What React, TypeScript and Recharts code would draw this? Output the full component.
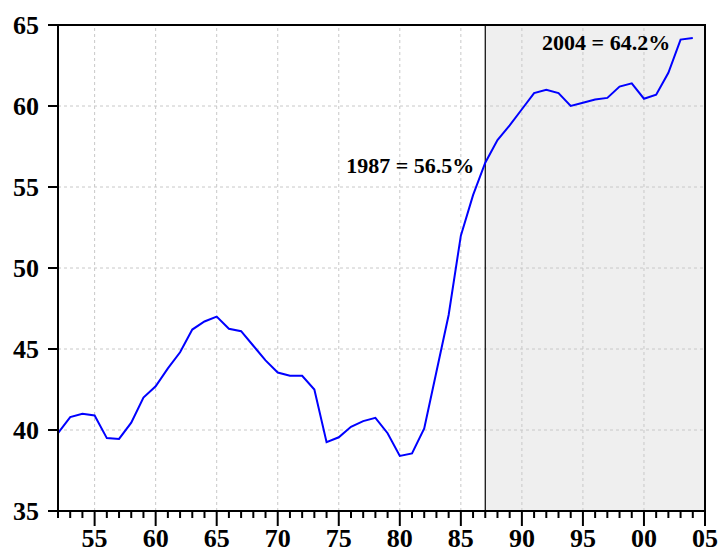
import {
  LineChart,
  Line,
  XAxis,
  YAxis,
  ReferenceArea,
  ReferenceLine,
  Label,
} from "recharts";

if (typeof document !== "undefined") {
  document.body.style.margin = "0";
}

const years = [
  1952, 1953, 1954, 1955, 1956, 1957, 1958, 1959, 1960, 1961, 1962, 1963,
  1964, 1965, 1966, 1967, 1968, 1969, 1970, 1971, 1972, 1973, 1974, 1975,
  1976, 1977, 1978, 1979, 1980, 1981, 1982, 1983, 1984, 1985, 1986, 1987,
  1988, 1989, 1990, 1991, 1992, 1993, 1994, 1995, 1996, 1997, 1998, 1999,
  2000, 2001, 2002, 2003, 2004,
];

const shares = [
  39.8, 40.8, 41.0, 40.9, 39.5, 39.45, 40.45, 42.0, 42.7, 43.8, 44.8, 46.2,
  46.7, 47.0, 46.25, 46.1, 45.2, 44.3, 43.55, 43.35, 43.35, 42.5, 39.25, 39.55,
  40.2, 40.55, 40.75, 39.8, 38.4, 38.55, 40.1, 43.6, 47.1, 52.0, 54.5, 56.5,
  57.9, 58.8, 59.8, 60.8, 61.0, 60.8, 60.0, 60.2, 60.4, 60.5, 61.2, 61.4,
  60.45, 60.7, 62.05, 64.1, 64.2,
];

const yTicks = [35, 40, 45, 50, 55, 60, 65];
const gridYears = [1955, 1960, 1965, 1970, 1975, 1980, 1985, 1990, 1995, 2000];
const gridValues = [40, 45, 50, 55, 60];
const xTickYears = [
  1952, 1953, 1954, 1955, 1956, 1957, 1958, 1959, 1960, 1961, 1962, 1963,
  1964, 1965, 1966, 1967, 1968, 1969, 1970, 1971, 1972, 1973, 1974, 1975,
  1976, 1977, 1978, 1979, 1980, 1981, 1982, 1983, 1984, 1985, 1986, 1987,
  1988, 1989, 1990, 1991, 1992, 1993, 1994, 1995, 1996, 1997, 1998, 1999,
  2000, 2001, 2002, 2003, 2004, 2005,
];

const breakYear = 1987;
const breakLabel = "1987 = 56.5%";
const endLabel = "2004 = 64.2%";

const chartData = years.map((year, i) => ({ year, share: shares[i] }));

const FONT = "Liberation Serif";

function YearTick(props: any) {
  const { x, y, payload } = props;
  const year = payload.value as number;
  const major = year % 5 === 0;
  return (
    <g>
      <line
        x1={x}
        x2={x}
        y1={y}
        y2={y + (major ? 15 : 7)}
        stroke="#000"
        strokeWidth={2}
      />
      {major && (
        <text
          x={x}
          y={y + 36}
          textAnchor="middle"
          fontFamily={FONT}
          fontWeight="bold"
          fontSize={26}
          fill="#000"
        >
          {String(year % 100).padStart(2, "0")}
        </text>
      )}
    </g>
  );
}

export default function App() {
  return (
    <div style={{ width: 721, height: 552, background: "#fff" }}>
      <LineChart
        width={721}
        height={552}
        data={chartData}
        margin={{ top: 25, right: 16, left: 0, bottom: 0 }}
      >
        <ReferenceArea
          x1={breakYear}
          x2={2005}
          y1={35}
          y2={65}
          fill="#efefef"
          fillOpacity={1}
          stroke="none"
        />
        {gridYears.map((g) => (
          <ReferenceLine
            key={"gx" + g}
            x={g}
            stroke="#c8c8c8"
            strokeDasharray="3 3"
          />
        ))}
        {gridValues.map((g) => (
          <ReferenceLine
            key={"gy" + g}
            y={g}
            stroke="#c8c8c8"
            strokeDasharray="3 3"
          />
        ))}
        <ReferenceLine x={breakYear} stroke="#000" strokeWidth={1.2} />
        <ReferenceArea
          x1={1952}
          x2={2005}
          y1={35}
          y2={65}
          fill="none"
          stroke="#000"
          strokeWidth={2}
        />
        <XAxis
          dataKey="year"
          type="number"
          domain={[1952, 2005]}
          ticks={xTickYears}
          interval={0}
          tick={<YearTick />}
          tickLine={false}
          tickSize={0}
          tickMargin={0}
          height={41}
          axisLine={{ stroke: "#000", strokeWidth: 2 }}
          allowDataOverflow
        />
        <YAxis
          type="number"
          domain={[35, 65]}
          ticks={yTicks}
          interval={0}
          width={58}
          tickSize={10}
          tickMargin={9}
          tickLine={{ stroke: "#000", strokeWidth: 2 }}
          axisLine={{ stroke: "#000", strokeWidth: 2 }}
          tick={{
            fill: "#000",
            fontFamily: FONT,
            fontWeight: "bold",
            fontSize: 26,
          }}
          allowDataOverflow
        />
        <Line
          type="linear"
          dataKey="share"
          stroke="#0000ff"
          strokeWidth={2}
          dot={false}
          isAnimationActive={false}
        />
        <ReferenceLine
          segment={[
            { x: 1980.85, y: 56.35 },
            { x: 1980.85, y: 56.35 },
          ]}
          stroke="none"
        >
          <Label
            value={breakLabel}
            position="center"
            fill="#000"
            fontFamily={FONT}
            fontWeight="bold"
            fontSize={22}
          />
        </ReferenceLine>
        <ReferenceLine
          segment={[
            { x: 1996.9, y: 63.95 },
            { x: 1996.9, y: 63.95 },
          ]}
          stroke="none"
        >
          <Label
            value={endLabel}
            position="center"
            fill="#000"
            fontFamily={FONT}
            fontWeight="bold"
            fontSize={22}
          />
        </ReferenceLine>
      </LineChart>
    </div>
  );
}
